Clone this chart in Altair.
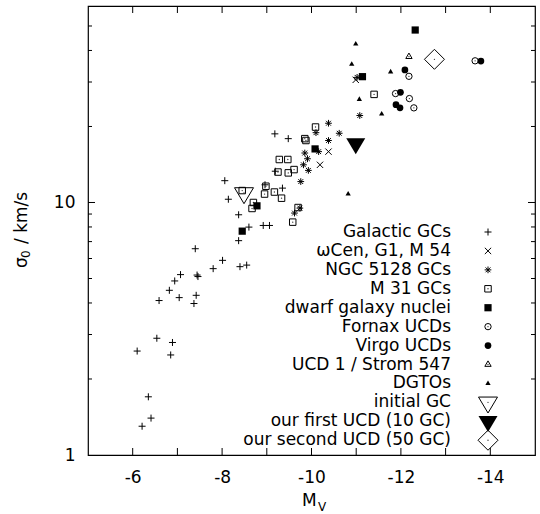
import altair as alt
import pandas as pd

FONT = "DejaVu Sans"
FS = 17

# ---- data: absolute magnitude M_V and central velocity dispersion sigma_0 [km/s]
gal_mv = [-8.06, -8.14, -8.37, -8.37, -8.60, -8.92, -9.06, -9.18, -9.48, -9.35,
          -9.19, -8.96, -7.40, -8.01, -7.80, -8.40, -8.55, -7.07, -7.44, -7.46,
          -6.94, -6.82, -7.04, -7.42, -7.37, -6.59, -6.54, -6.89, -6.10, -6.85,
          -6.35, -6.41, -6.21]
gal_sig = [12.2, 10.3, 8.94, 7.06, 7.99, 8.11, 8.11, 18.7, 17.9, 11.4,
           13.3, 11.75, 6.56, 5.90, 5.47, 5.57, 5.65, 5.18, 5.16, 5.09,
           4.89, 4.49, 4.20, 4.29, 3.98, 4.09, 2.90, 2.79, 2.58, 2.49,
           1.70, 1.40, 1.30]

omega_mv = [-10.38, -10.19, -10.99]
omega_sig = [15.9, 14.1, 30.6]

ngc5128_mv = [-10.38, -10.10, -10.38, -10.62, -9.85, -9.91, -9.82, -9.93, -10.16,
              -9.76, -9.74, -9.62, -11.08, -11.02]
ngc5128_sig = [20.6, 18.9, 17.6, 18.8, 15.7, 14.9, 14.1, 13.4, 15.9,
               12.1, 9.5, 9.08, 22.1, 31.3]

m31_mv = [-10.09, -9.85, -9.875, -9.28, -9.47, -9.25, -9.48, -9.61, -8.98, -8.95,
          -9.17, -9.33, -8.45, -8.70, -8.67, -9.70, -9.58, -11.40]
m31_sig = [19.9, 17.9, 17.6, 14.8, 14.8, 13.2, 13.1, 13.5, 11.6, 10.8,
           11.0, 10.4, 11.15, 10.0, 9.47, 9.55, 8.36, 26.8]

dwarf_mv = [-12.32, -11.14, -10.08, -8.78, -8.45]
dwarf_sig = [48.2, 31.5, 16.3, 9.70, 7.70]

fornax_mv = [-13.66, -12.18, -11.88, -12.19, -12.29]
fornax_sig = [36.4, 31.6, 27.0, 25.8, 23.7]

virgo_mv = [-13.79, -12.09, -11.99, -11.89, -11.98]
virgo_sig = [36.3, 33.5, 27.3, 24.4, 23.7]

ucd1_mv = [-12.18]
ucd1_sig = [37.8]

dgto_mv = [-10.99, -10.90, -11.77, -11.07, -11.57, -10.82]
dgto_sig = [42.4, 35.3, 32.9, 25.6, 22.4, 10.8]

initial_mv = [-8.49]
initial_sig = [10.9]

first_mv = [-10.99]
first_sig = [17.1]

second_mv = [-12.75]
second_sig = [36.9]

x_tick_values = [-6, -7, -8, -9, -10, -11, -12, -13, -14]
x_label_values = [-6, -8, -10, -12, -14]
y_major_values = [10]
y_minor_values = [2, 3, 4, 5, 6, 7, 8, 9, 20, 30, 40, 50]
y_label_values = [1, 10]

# ---- point symbols (paths in the unit box, scaled by sqrt(size))
PLUS = "M-1,0L1,0M0,-1L0,1"
CROSS = "M-1,-1L1,1M-1,1L1,-1"
STAR = "M-1,0L1,0M0,-1L0,1M-0.72,-0.72L0.72,0.72M-0.72,0.72L0.72,-0.72"
TRI_UP = "M0,-1.15L1,0.58L-1,0.58Z"
TRI_DOWN = "M-1,-0.56L1,-0.56L0,1.12Z"
DIAMOND = "M0,-1L1,0L0,1L-1,0Z"

# name, mv, sigma, shape, size, filled, centre dot
groups = [
    ("Galactic GCs", gal_mv, gal_sig, PLUS, 49, False, False),
    ("\u03c9Cen, G1, M 54", omega_mv, omega_sig, CROSS, 40, False, False),
    ("NGC 5128 GCs", ngc5128_mv, ngc5128_sig, STAR, 45, False, False),
    ("M 31 GCs", m31_mv, m31_sig, "square", 42, False, True),
    ("dwarf galaxy nuclei", dwarf_mv, dwarf_sig, "square", 52, True, False),
    ("Fornax UCDs", fornax_mv, fornax_sig, "circle", 40, False, True),
    ("Virgo UCDs", virgo_mv, virgo_sig, "circle", 45, True, False),
    ("UCD 1 / Strom 547", ucd1_mv, ucd1_sig, TRI_UP, 40, False, True),
    ("DGTOs", dgto_mv, dgto_sig, TRI_UP, 28, True, False),
    ("initial GC", initial_mv, initial_sig, TRI_DOWN, 361, False, True),
    ("our first UCD (10 GC)", first_mv, first_sig, TRI_DOWN, 361, True, False),
    ("our second UCD (50 GC)", second_mv, second_sig, DIAMOND, 400, False, True),
]

W, H = 447, 449

X = alt.X(
    "mv:Q",
    scale=alt.Scale(domain=[-15, -5], reverse=True, nice=False, zero=False),
    axis=alt.Axis(values=x_label_values, ticks=False, domain=False, grid=False,
                  labelFont=FONT, labelFontSize=FS, labelColor="black",
                  labelPadding=14, labelFlush=False, title=None,
                  labelExpr="'-' + abs(datum.value)"),
)
Y = alt.Y(
    "sigma:Q",
    scale=alt.Scale(type="log", domain=[1, 60], nice=False),
    axis=alt.Axis(values=y_label_values, ticks=False, domain=False, grid=False,
                  labelFont=FONT, labelFontSize=FS, labelColor="black",
                  labelPadding=13, labelFlush=False, title=None,
                  labelExpr="datum.value"),
)


def symbol(shape, size, filled):
    if filled:
        return dict(shape=shape, size=size, filled=True, color="black",
                    opacity=1, strokeWidth=0.6)
    return dict(shape=shape, size=size, filled=False, color="black",
                opacity=1, strokeWidth=1)


DOT = dict(shape="circle", size=1.8, filled=True, color="#333333", opacity=1)

layers = []

# axis ticks drawn inward on all four sides
xt = pd.DataFrame({"mv": x_tick_values})
layers.append(alt.Chart(xt).mark_rule(color="black", strokeWidth=1).encode(
    x=X, y=alt.value(H), y2=alt.value(H - 7)))
layers.append(alt.Chart(xt).mark_rule(color="black", strokeWidth=1).encode(
    x=X, y=alt.value(0), y2=alt.value(7)))
ymaj = pd.DataFrame({"sigma": y_major_values})
ymin = pd.DataFrame({"sigma": y_minor_values})
for df, ln in ((ymaj, 7), (ymin, 4)):
    layers.append(alt.Chart(df).mark_rule(color="black", strokeWidth=1).encode(
        y=Y, x=alt.value(0), x2=alt.value(ln)))
    layers.append(alt.Chart(df).mark_rule(color="black", strokeWidth=1).encode(
        y=Y, x=alt.value(W), x2=alt.value(W - ln)))

# data points
for name, mv, sig, shape, size, filled, dot in groups:
    df = pd.DataFrame({"mv": mv, "sigma": sig})
    layers.append(alt.Chart(df).mark_point(**symbol(shape, size, filled)).encode(x=X, y=Y))
    if dot:
        layers.append(alt.Chart(df).mark_point(**DOT).encode(x=X, y=Y))

# key: right-aligned labels with the symbol to their right
KEY_TEXT_X = 363
KEY_SYM_X = 400
KEY_Y0 = 226
KEY_DY = 18.93
for i, (name, mv, sig, shape, size, filled, dot) in enumerate(groups):
    yy = KEY_Y0 + i * KEY_DY
    lab = pd.DataFrame({"label": [name]})
    layers.append(alt.Chart(lab).mark_text(
        align="right", baseline="middle", font=FONT, fontSize=FS, color="black"
    ).encode(x=alt.value(KEY_TEXT_X), y=alt.value(yy), text="label:N"))
    layers.append(alt.Chart(lab).mark_point(**symbol(shape, size, filled)).encode(
        x=alt.value(KEY_SYM_X), y=alt.value(yy)))
    if dot:
        layers.append(alt.Chart(lab).mark_point(**DOT).encode(
            x=alt.value(KEY_SYM_X), y=alt.value(yy)))


# axis titles with subscripts
def txt(s, x, y, size, angle=0, align="left"):
    return alt.Chart(pd.DataFrame({"t": [s]})).mark_text(
        align=align, baseline="alphabetic", font=FONT, fontSize=size,
        color="black", angle=angle,
    ).encode(x=alt.value(x), y=alt.value(y), text="t:N")


layers.append(txt("M", 302 - 88, 506 - 6, FS))
layers.append(txt("V", 318 - 88, 511 - 6, 12))
layers.append(txt("\u03c3", 27 - 88, 268 - 6, FS, angle=270))
layers.append(txt("0", 30 - 88, 258 - 6, 12, angle=270))
layers.append(txt("/ km/s", 27 - 88, 244 - 6, FS, angle=270))

chart = alt.layer(*layers).properties(
    width=W,
    height=H,
    padding={"left": 88, "top": 6, "right": 5, "bottom": 59},
    autosize=alt.AutoSizeParams(type="none"),
    background="white",
).configure_view(stroke="black", strokeWidth=1.2)

chart.save("out.html", embed_options={"renderer": "svg", "actions": False})
